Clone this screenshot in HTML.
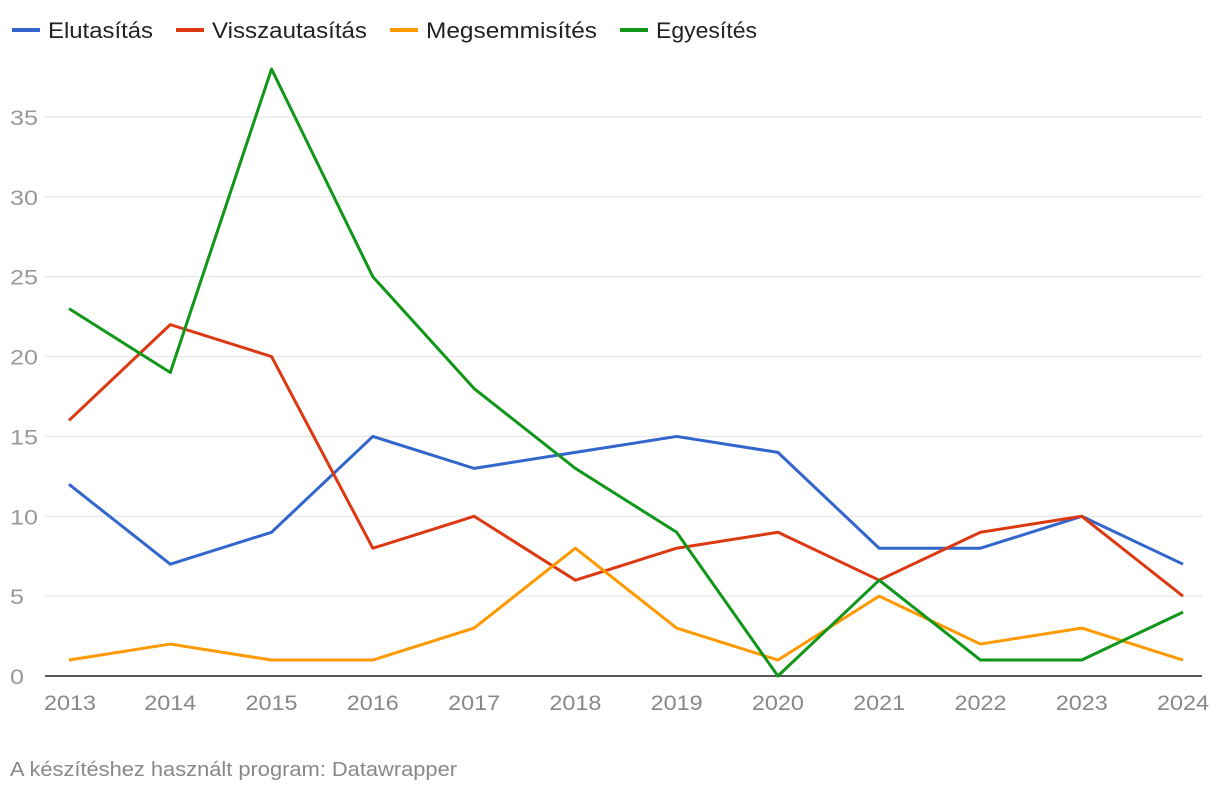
<!DOCTYPE html>
<html><head><meta charset="utf-8"><style>
body{margin:0;background:#fff;font-family:"Liberation Sans",Arial,sans-serif;}
svg text{font-family:"Liberation Sans",Arial,sans-serif;}
</style></head><body>
<svg id="chart" width="1220" height="792">
<g id="legend"></g>
<g id="grid"></g>
<g id="series"></g>
<text x="10" y="776" font-size="20" fill="#888" textLength="447" lengthAdjust="spacingAndGlyphs">A készítéshez használt program: Datawrapper</text>
</svg>
<script>
const years = [2013,2014,2015,2016,2017,2018,2019,2020,2021,2022,2023,2024];
const elutasitas = [12,7,9,15,13,14,15,14,8,8,10,7];
const visszautasitas = [16,22,20,8,10,6,8,9,6,9,10,5];
const megsemmisites = [1,2,1,1,3,8,3,1,5,2,3,1];
const egyesites = [23,19,38,25,18,13,9,0,6,1,1,4];
const yTicks = [0,5,10,15,20,25,30,35];
const seriesNames = ["Elutasítás","Visszautasítás","Megsemmisítés","Egyesítés"];
const seriesColors = ["#3366cc","#dc3912","#ff9900","#109618"];

const NS="http://www.w3.org/2000/svg";
const x0=69,x1=1183,y0=676,yPer=(676-117)/35;
const xs=i=>x0+i*(x1-x0)/(years.length-1);
const ys=v=>y0-v*yPer;
function mk(tag,attrs,parent){const e=document.createElementNS(NS,tag);for(const k in attrs)e.setAttribute(k,attrs[k]);parent.appendChild(e);return e;}
const grid=document.getElementById('grid');
yTicks.forEach(t=>{
  const l=mk('line',{x1:45,x2:1202,y1:ys(t),y2:ys(t),stroke:t===0?'#222':'#e2e2e2','stroke-width':t===0?1.5:1},grid);
  
  
  const tx=mk('text',{x:10,y:ys(t)+8,'font-size':21,fill:'#999',textLength:String(t).length*14,lengthAdjust:'spacingAndGlyphs'},grid);
  tx.textContent=t;
  
  
});
years.forEach((yr,i)=>{
  let anchor=i===0?'start':(i===years.length-1?'end':'middle');
  let xx=i===0?44:(i===years.length-1?1209:xs(i));
  const tx=mk('text',{x:xx,y:710,'font-size':21,fill:'#888','text-anchor':anchor,textLength:52,lengthAdjust:'spacingAndGlyphs'},grid);
  tx.textContent=yr;
  
  
});
const data=[elutasitas,visszautasitas,megsemmisites,egyesites];
const sg=document.getElementById('series');
data.forEach((arr,si)=>{
  const p=mk('polyline',{points:arr.map((v,i)=>xs(i)+','+ys(v)).join(' '),fill:'none',stroke:seriesColors[si],'stroke-width':3,'stroke-linejoin':'round'},sg);
  
  
});
const lg=document.getElementById('legend');
const lx=[12,176,390,620];
const lw=[105,155,171,101];
seriesNames.forEach((n,i)=>{
  const l=mk('line',{x1:lx[i],x2:lx[i]+28,y1:30,y2:30,stroke:seriesColors[i],'stroke-width':4},lg);
  
  
  const t=mk('text',{x:lx[i]+36,y:38,'font-size':22,fill:'#222',textLength:lw[i],lengthAdjust:'spacingAndGlyphs'},lg);
  t.textContent=n;
  
  
});
</script>
</body></html>
